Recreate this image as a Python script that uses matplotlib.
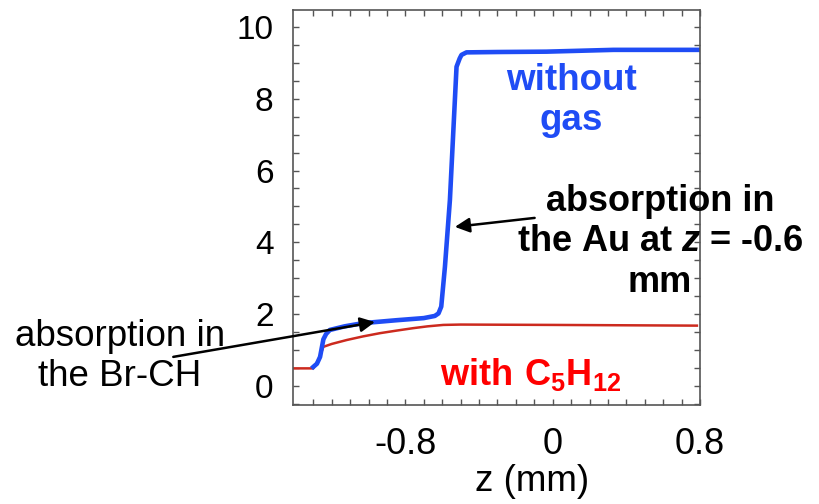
import matplotlib
matplotlib.use('Agg')
import matplotlib.pyplot as plt
import numpy as np

plt.rcParams['font.family'] = ['Liberation Sans', 'DejaVu Sans']
plt.rcParams['mathtext.fontset'] = 'custom'
plt.rcParams['mathtext.rm'] = 'Liberation Sans'
plt.rcParams['mathtext.bf'] = 'Liberation Sans:bold'
plt.rcParams['mathtext.bfit'] = 'Liberation Sans:bold:italic'

# 无气体 (蓝线)
z_blue = [-1.30, -1.28, -1.263, -1.245, -1.23, -1.21, -1.13, -1.03, -0.85, -0.70,
          -0.64, -0.62, -0.605, -0.585, -0.558, -0.540, -0.522, -0.505, -0.495,
          -0.468, -0.30, -0.034, 0.33, 0.79]
v_blue = [0.53, 0.62, 0.81, 1.30, 1.45, 1.56, 1.66, 1.75, 1.83, 1.89,
          1.95, 2.02, 2.21, 3.32, 5.18, 7.04, 8.89, 9.12, 9.22,
          9.29, 9.30, 9.31, 9.36, 9.36]

# 有 C5H12 (红线)
z_red = [-1.41, -1.30, -1.27, -1.245, -1.20, -1.118, -1.03, -0.938, -0.85, -0.757,
         -0.68, -0.594, -0.50, 0.0, 0.79]
v_red = [0.49, 0.49, 0.75, 1.09, 1.17, 1.28, 1.38, 1.47, 1.54, 1.61,
         1.66, 1.70, 1.71, 1.70, 1.68]

x_ticklabels = ['-0.8', '0', '0.8']
x_major = [-0.8, 0.0, 0.8]
y_major = [0, 2, 4, 6, 8, 10]

fig = plt.figure(figsize=(8.19, 5.04), dpi=100)
ax = fig.add_axes([293/819, 1-405/504, 407/819, 395/504])

ax.plot(z_red, v_red, color='#cc2a1e', lw=1.8, solid_capstyle='butt')
ax.plot(z_blue, v_blue, color='#1f4cf5', lw=3.3, solid_joinstyle='round')

ax.set_xlim(-1.41, 0.80)
ax.set_ylim(-0.53, 10.47)

ax.set_xticks(x_major)
ax.set_xticklabels(x_ticklabels)
ax.set_xticks(np.arange(-1.3, 0.75, 0.1), minor=True)
ax.set_yticks(y_major)
ax.set_yticks(np.arange(-0.5, 10.5, 0.5), minor=True)

ax.tick_params(which='both', direction='in', top=True, right=True,
               length=4, width=1, color='#555555')
ax.tick_params(axis='x', which='major', labelsize=26, pad=16)
ax.tick_params(axis='y', which='major', labelsize=24, pad=14)
for s in ax.spines.values():
    s.set_color('#555555')
    s.set_linewidth(1.2)

ax.set_xlabel('z (mm)', fontsize=26.5)
ax.xaxis.set_label_coords(0.587, -0.15)

# 标注文字
fig.text(0.698, 0.80, 'without\ngas', color='#1f4cf5', fontsize=26.5,
         fontweight='bold', ha='center', va='center', linespacing=1.2)
fig.text(0.806, 0.52, 'absorption in\nthe Au at $\\mathbfit{z}$ = -0.6\nmm',
         color='black', fontsize=26, fontweight='bold', ha='center',
         va='center', linespacing=1.2)
fig.text(0.537, 0.236, '$\\mathbf{with\\ C_5H_{12}}$', color='#ff0000',
         fontsize=26, ha='left', va='baseline')
fig.text(0.1465, 0.293, 'absorption in\nthe Br-CH', color='black',
         fontsize=26.5, ha='center', va='center', linespacing=1.2)

# 箭头
ax.annotate('', xy=(-0.965, 1.78), xytext=(-2.06, 0.81),
            arrowprops=dict(arrowstyle='-|>', color='black', lw=1.8,
                            mutation_scale=22, shrinkA=0, shrinkB=0),
            annotation_clip=False)
ax.annotate('', xy=(-0.531, 4.43), xytext=(-0.098, 4.68),
            arrowprops=dict(arrowstyle='-|>', color='black', lw=1.8,
                            mutation_scale=22, shrinkA=0, shrinkB=0),
            annotation_clip=False)

fig.savefig('out.png', dpi=100)
